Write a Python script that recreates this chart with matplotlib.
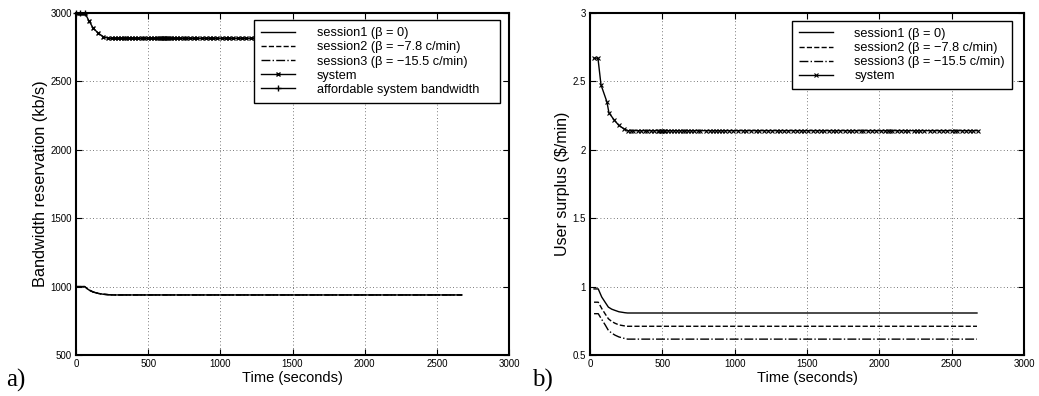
import matplotlib
matplotlib.use("Agg")
import matplotlib.pyplot as plt

# ---------------- data: panel a) bandwidth reservation ----------------
a_sess_t = [0, 60, 90, 120, 155, 189, 224, 260, 2674]
a_sess1 = [1000, 1000, 975, 960, 950, 944, 941, 939, 939]
a_sess2 = [1000, 1000, 975, 960, 950, 944, 941, 939, 939]
a_sess3 = [1000, 1000, 975, 960, 950, 944, 941, 939, 939]

a_sys_trans_t = [5, 20, 35, 50, 62, 90, 120, 155, 189, 224]
a_sys_trans_v = [3000, 3000, 3000, 3000, 3000, 2942, 2888, 2852, 2827, 2815]
a_sys_plateau_t = [250, 270, 290, 310, 330, 345, 370, 390, 410, 430, 455, 470,
                   500, 520, 540, 560, 575, 590, 600, 610, 620, 630, 645, 660,
                   680, 700, 720, 745, 760, 790, 820, 840, 870, 900, 930, 950,
                   980, 1010, 1040, 1060, 1090, 1120, 1150, 1180, 1210, 1240,
                   1280, 1320, 1350, 1390, 1420, 1460, 1500, 1540, 1580, 1620,
                   1660, 1700, 1750, 1800, 1850, 1900, 1950, 2000, 2060, 2120,
                   2180, 2240, 2300, 2360, 2420, 2480, 2540, 2600, 2660]
a_sys_plateau_v = 2815

a_afford_t = [0, 30, 60]
a_afford_v = [3000, 3000, 3000]

# ---------------- data: panel b) user surplus ----------------
b_sess_t = [28, 57, 81, 105, 127, 150, 173, 200, 242, 260, 2675]
b_sess1 = [0.983, 0.983, 0.924, 0.885, 0.850, 0.835, 0.826, 0.816, 0.809, 0.807, 0.807]
b_sess2 = [0.886, 0.886, 0.840, 0.800, 0.765, 0.745, 0.732, 0.720, 0.712, 0.710, 0.710]
b_sess3 = [0.802, 0.802, 0.760, 0.720, 0.680, 0.660, 0.645, 0.632, 0.620, 0.616, 0.616]

b_sys_trans_t = [28, 55, 76, 117, 131, 168, 198, 233]
b_sys_trans_v = [2.67, 2.67, 2.475, 2.35, 2.27, 2.217, 2.18, 2.154]
b_sys_plateau_t = [260, 285, 300, 330, 350, 380, 395, 420, 445, 470, 480, 490,
                   500, 510, 520, 540, 560, 580, 600, 620, 640, 660, 680, 700,
                   720, 745, 760, 800, 830, 850, 870, 890, 910, 930, 960, 990,
                   1020, 1060, 1080, 1110, 1150, 1170, 1200, 1230, 1260, 1290,
                   1310, 1340, 1370, 1400, 1430, 1460, 1480, 1510, 1540, 1570,
                   1600, 1620, 1650, 1680, 1700, 1730, 1760, 1790, 1810, 1840,
                   1870, 1890, 1920, 1950, 1980, 2010, 2040, 2060, 2075, 2090,
                   2120, 2150, 2180, 2200, 2240, 2260, 2280, 2310, 2350, 2380,
                   2410, 2440, 2470, 2500, 2520, 2540, 2570, 2600, 2630, 2650, 2680]
b_sys_plateau_v = 2.14

labels_a = ["session1 (\u03b2 = 0)", "session2 (\u03b2 = \u22127.8 c/min)",
            "session3 (\u03b2 = \u221215.5 c/min)", "system",
            "affordable system bandwidth"]
labels_b = labels_a[:4]

x_ticks = [0, 500, 1000, 1500, 2000, 2500, 3000]
a_yticks = [500, 1000, 1500, 2000, 2500, 3000]
b_yticks = [0.5, 1, 1.5, 2, 2.5, 3]
b_yticklabels = ["0.5", "1", "1.5", "2", "2.5", "3"]

# ---------------- figure ----------------
plt.rcParams['font.family'] = ['Liberation Sans', 'DejaVu Sans']
fig = plt.figure(figsize=(10.39, 3.96), dpi=100)
axA = fig.add_axes([76/1039, 41/396, 433/1039, 342/396])
axB = fig.add_axes([590/1039, 41/396, 434/1039, 342/396])


def style(ax):
    ax.set_xlim(0, 3000)
    ax.set_xticks(x_ticks)
    ax.grid(True, linestyle=(0, (1, 3)), color='black', linewidth=0.6, alpha=0.7)
    ax.tick_params(direction='in', top=True, right=True, length=4, width=0.8,
                   labelsize=7, pad=3)
    for s in ax.spines.values():
        s.set_linewidth(1.5)
    ax.set_xlabel("Time (seconds)", fontsize=10.5, labelpad=1)


def legend(ax, x0, x1, ytop):
    leg = ax.legend(loc='upper left', bbox_to_anchor=(x0, 0, x1 - x0, ytop),
                    mode='expand', borderaxespad=0,
                    fontsize=9.2, handlelength=2.65, handletextpad=1.7,
                    labelspacing=0.17, borderpad=0.55, fancybox=False,
                    framealpha=1, edgecolor='black')
    leg.get_frame().set_linewidth(1.0)
    return leg


lw = 1.0
ms = 3.5
# panel a
style(axA)
axA.set_ylim(500, 3000)
axA.set_yticks(a_yticks)
axA.plot(a_sess_t, a_sess1, '-', color='black', lw=lw, label=labels_a[0])
axA.plot(a_sess_t, a_sess2, '--', color='black', lw=lw, label=labels_a[1])
axA.plot(a_sess_t, a_sess3, '-.', color='black', lw=lw, label=labels_a[2])
a_sys_t = a_sys_trans_t + a_sys_plateau_t
a_sys_v = a_sys_trans_v + [a_sys_plateau_v] * len(a_sys_plateau_t)
axA.plot(a_sys_t, a_sys_v, '-x', color='black', lw=lw, ms=ms, mew=1.0, label=labels_a[3])
axA.plot(a_afford_t, a_afford_v, '-+', color='black', lw=lw, ms=ms + 1, mew=1.0,
         label=labels_a[4], clip_on=False)
axA.set_ylabel("Bandwidth reservation (kb/s)", fontsize=11.7, labelpad=2)
legend(axA, 0.411, 0.979, 0.979)

# panel b
style(axB)
axB.set_ylim(0.5, 3)
axB.set_yticks(b_yticks)
axB.set_yticklabels(b_yticklabels)
axB.plot(b_sess_t, b_sess1, '-', color='black', lw=lw, label=labels_b[0])
axB.plot(b_sess_t, b_sess2, '--', color='black', lw=lw, label=labels_b[1])
axB.plot(b_sess_t, b_sess3, '-.', color='black', lw=lw, label=labels_b[2])
b_sys_t = b_sys_trans_t + b_sys_plateau_t
b_sys_v = b_sys_trans_v + [b_sys_plateau_v] * len(b_sys_plateau_t)
axB.plot(b_sys_t, b_sys_v, '-x', color='black', lw=lw, ms=ms, mew=0.8, label=labels_b[3])
axB.set_ylabel("User surplus ($/min)", fontsize=11.5, labelpad=2)
legend(axB, 0.465, 0.972, 0.977)

fig.text(0.006, 0.025, "a)", fontsize=18, va='baseline',
         family=['Liberation Serif', 'DejaVu Serif'])
fig.text(0.512, 0.025, "b)", fontsize=18, va='baseline',
         family=['Liberation Serif', 'DejaVu Serif'])

fig.savefig("out.png", dpi=100)
